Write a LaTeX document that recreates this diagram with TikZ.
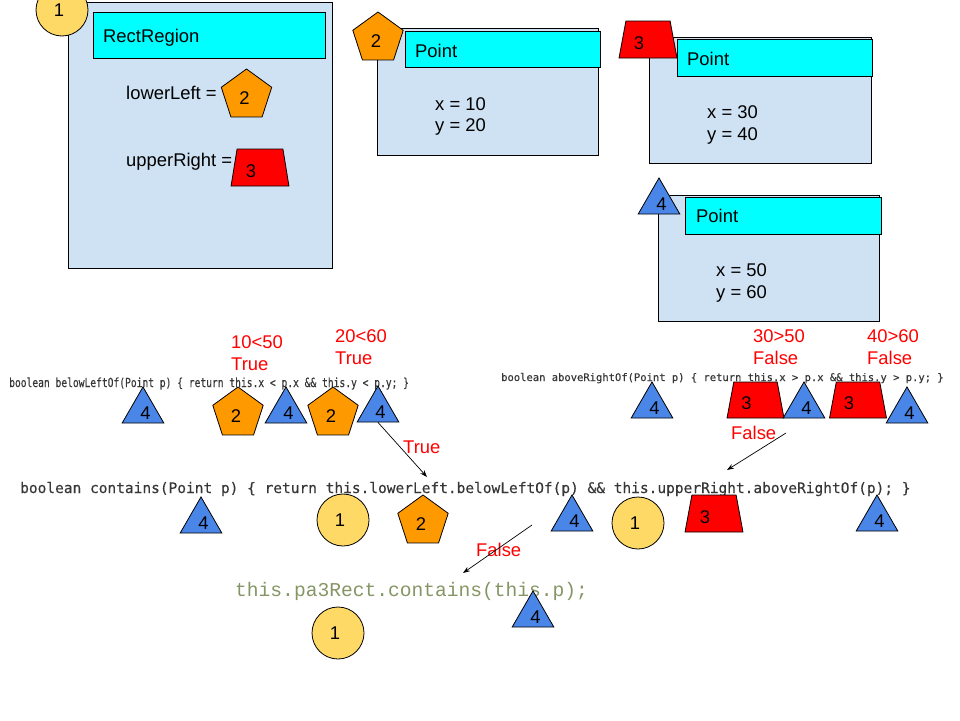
\documentclass[tikz,border=0pt]{standalone}
\usepackage{fontspec}
\setmainfont{Liberation Sans}
\newfontfamily\codefont[FakeBold=0.4]{DejaVu Sans Mono}
\newfontfamily\srcfont{Liberation Mono}
\usetikzlibrary{shapes.geometric,arrows.meta}

\definecolor{panelfill}{HTML}{CFE2F3}
\definecolor{headfill}{HTML}{00FFFF}
\definecolor{circfill}{HTML}{FFD966}
\definecolor{pentfill}{HTML}{FF9900}
\definecolor{trapfill}{HTML}{FF0000}
\definecolor{trifill}{HTML}{4A86E8}
\definecolor{codegray}{RGB}{55,55,55}
\definecolor{srcgreen}{RGB}{132,150,100}
\definecolor{evalred}{HTML}{FF0000}

\tikzset{
  every node/.style={font=\fontsize{18.4}{22}\selectfont},
  outline/.style={draw=black, line width=0.8pt},
  panel/.style={outline, fill=panelfill, anchor=north west, inner sep=0},
  header/.style={outline, fill=headfill, anchor=north west, inner sep=0},
  txt/.style={anchor=base west, inner sep=0},
  evaltxt/.style={txt, text=evalred},
  code/.style={txt, text=codegray},
  % marker shapes; the digit sits a little off the shape's centre
  obj/.style={outline, circle, fill=circfill, minimum size=52pt, inner sep=0,
    text height=13pt, text depth=0pt, execute at end node={\hspace*{6pt}}},
  pent/.style={outline, regular polygon, regular polygon sides=5, fill=pentfill,
    minimum size=53pt, inner sep=0, text height=17pt, text depth=0pt,
    execute at end node={\hspace*{4pt}}},
  tri/.style={outline, regular polygon, regular polygon sides=3, fill=trifill,
    minimum size=48pt, inner sep=0, text height=17pt, text depth=0pt,
    execute at begin node={\hspace*{5pt}}},
  trap/.style={outline, trapezium, trapezium left angle=77, trapezium right angle=77,
    trapezium stretches=true, fill=trapfill, minimum width=58pt, minimum height=37pt,
    inner sep=0, text height=19pt, text depth=0pt, execute at end node={\hspace*{18pt}}},
  arr/.style={line width=0.7pt, -{Stealth[length=7pt,width=5pt]}},
}

\begin{document}
\begin{tikzpicture}[x=1pt,y=-1pt]
\useasboundingbox (0,0) rectangle (960,720);

% ---------- RectRegion object ----------
\node[panel, minimum width=264pt, minimum height=266pt] (rr) at (68,2) {};
\node[header, minimum width=232pt, minimum height=46pt] (rrh) at (93,12) {};
\node[txt] (rrt) at (103,42) {RectRegion};
\node[txt] (rrll) at (126,99) {lowerLeft =};
\node[txt] (rrur) at (126,166) {upperRight =};
\node[pent] (rrp) at (246.5,95.5) {2};
\node[trap, trapezium left angle=79, trapezium right angle=79] (rrq) at (260,167.5) {3};
\node[obj] (rrc) at (62,10) {1};

% ---------- Point objects ----------
\node[panel, minimum width=221pt, minimum height=127pt] (pa) at (377,28) {};
\node[header, minimum width=195pt, minimum height=36pt] (pah) at (405,31) {};
\node[txt] (pat) at (415,57) {Point};
\node[txt] (pax) at (435,110) {x = 10};
\node[txt] (pay) at (435,131) {y = 20};
\node[pent] (pap) at (378,38.5) {2};

\node[panel, minimum width=222pt, minimum height=126pt] (pb) at (649,37) {};
\node[header, minimum width=195pt, minimum height=37pt] (pbh) at (677,39) {};
\node[txt] (pbt) at (687,65) {Point};
\node[txt] (pbx) at (707,118) {x = 30};
\node[txt] (pby) at (707,140) {y = 40};
\node[trap] (pbq) at (648,39.5) {3};

\node[panel, minimum width=221pt, minimum height=126pt] (pc) at (658,195) {};
\node[header, minimum width=196pt, minimum height=37pt] (pch) at (685,197) {};
\node[txt] (pct) at (696,222) {Point};
\node[txt] (pcx) at (716,276) {x = 50};
\node[txt] (pcy) at (716,298) {y = 60};
\node[tri] (pcr) at (659,202) {4};

% ---------- belowLeftOf ----------
\node[code] (blcode) at (9,387)
  {\scalebox{0.77}[1]{\codefont\fontsize{12.5}{14}\selectfont boolean belowLeftOf(Point p) \{ return this.x < p.x \&\& this.y < p.y; \}}};
\node[evaltxt] (blx) at (231,348) {10<50};
\node[evaltxt] (blxv) at (231,370) {True};
\node[evaltxt] (bly) at (335,342) {20<60};
\node[evaltxt] (blyv) at (335,364) {True};
\node[tri] (bl1) at (143,411) {4};
\node[pent] (bl2) at (238,413.5) {2};
\node[tri] (bl3) at (286,411) {4};
\node[pent] (bl4) at (333,413.5) {2};
\node[tri] (bl5) at (378,410) {4};
\node[evaltxt] (blres) at (403,453) {True};
\coordinate (bltip) at (427,477);
\draw[arr] (bl5.south) -- (bltip);

% ---------- aboveRightOf ----------
\node[code] (arcode) at (501,381)
  {\codefont\fontsize{10.5}{12}\selectfont boolean aboveRightOf(Point p) \{ return this.x > p.x \&\& this.y > p.y; \}};
\node[evaltxt] (arx) at (753,342) {30>50};
\node[evaltxt] (arxv) at (753,364) {False};
\node[evaltxt] (ary) at (867,342) {40>60};
\node[evaltxt] (aryv) at (867,364) {False};
\node[tri] (ar1) at (652,406) {4};
\node[trap, minimum width=57pt, minimum height=36pt] (ar2) at (755.5,400) {3};
\node[tri] (ar3) at (804,406) {4};
\node[trap, minimum width=57pt, minimum height=36pt] (ar4) at (858,400) {3};
\node[tri] (ar5) at (907,411) {4};
\node[evaltxt] (arres) at (731,439) {False};
\coordinate (artail) at (786,433);
\coordinate (artip) at (727,470);
\draw[arr] (artail) -- (artip);

% ---------- contains ----------
\node[code] (cocode) at (20,493)
  {\codefont\fontsize{14.5}{17}\selectfont boolean contains(Point p) \{ return this.lowerLeft.belowLeftOf(p) \&\& this.upperRight.aboveRightOf(p); \}};
\node[tri] (co1) at (201,521) {4};
\node[obj] (co2) at (343,520) {1};
\node[pent] (co3) at (423,521.5) {2};
\node[tri] (co4) at (572,519) {4};
\node[obj] (co5) at (638,523) {1};
\node[trap] (co6) at (714,513.5) {3};
\node[tri] (co7) at (877,519) {4};
\node[evaltxt] (cores) at (476,556) {False};
\coordinate (cotail) at (532,525);
\coordinate (cotip) at (463,573);
\draw[arr] (cotail) -- (cotip);

% ---------- call site ----------
\node[txt, text=srcgreen] (call) at (235,596)
  {\srcfont\fontsize{19.6}{22}\selectfont this.pa3Rect.contains(this.p);};
\node[obj] (ca1) at (338,633) {1};
\node[tri] (ca2) at (533,615) {4};
\end{tikzpicture}
\end{document}
